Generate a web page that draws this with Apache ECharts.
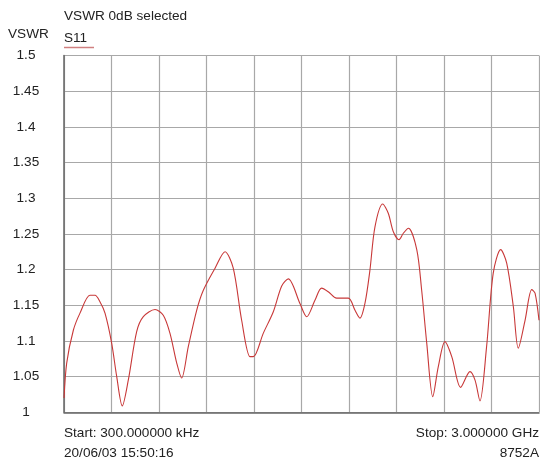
<!DOCTYPE html>
<html>
<head>
<meta charset="utf-8">
<script src="https://cdn.jsdelivr.net/npm/echarts@6/dist/echarts.min.js"></script>
<style>
  html, body { margin: 0; padding: 0; background: #fff; }
  #chart { width: 540px; height: 459px; }
</style>
</head>
<body>
<div id="chart"></div>
<script>
// sweep frequency, MHz (0.3 MHz .. 3000 MHz)
const freqMHz = [0.3, 17, 59, 101, 164, 196, 227, 259, 301, 333, 368, 406, 459, 501, 575, 627, 669, 712, 743, 785,
  838, 880, 954, 1017, 1069, 1122, 1175, 1196, 1259, 1322, 1375, 1417, 1491, 1533, 1585, 1627, 1669, 1722, 1796, 1838,
  1869, 1901, 1932, 1964, 2013, 2048, 2080, 2116, 2143, 2175, 2228, 2259, 2291, 2329, 2364, 2406, 2449, 2505, 2564, 2596,
  2627, 2669, 2711, 2758, 2796, 2838, 2869, 2912, 2954, 2975, 3000]
// S11 VSWR readings
const vswr = [1.02, 1.069, 1.115, 1.139, 1.164, 1.164, 1.155, 1.139, 1.097, 1.05, 1.009, 1.045, 1.113, 1.134, 1.144, 1.136, 1.111, 1.069, 1.048, 1.092,
  1.143, 1.171, 1.202, 1.225, 1.202, 1.129, 1.078, 1.078, 1.111, 1.141, 1.177, 1.187, 1.152, 1.134, 1.157, 1.174, 1.169, 1.160, 1.160, 1.143,
  1.132, 1.153, 1.199, 1.260, 1.292, 1.279, 1.253, 1.242, 1.251, 1.258, 1.228, 1.171, 1.097, 1.022, 1.064, 1.099, 1.078, 1.035, 1.057, 1.045,
  1.016, 1.092, 1.195, 1.228, 1.209, 1.148, 1.090, 1.129, 1.172, 1.167, 1.129]
const yTicks = ['1', '1.05', '1.1', '1.15', '1.2', '1.25', '1.3', '1.35', '1.4', '1.45', '1.5']

const chart = echarts.init(document.getElementById('chart'))
const txt = { fontFamily: 'Liberation Sans, Arial, sans-serif', fontSize: 13.6, fill: '#222' }

chart.setOption({
  animation: false,
  grid: { left: 64, right: 1, top: 55.6, bottom: 46.7, containLabel: false },
  xAxis: {
    type: 'value',
    min: 0,
    max: 3000,
    interval: 300,
    axisLabel: { show: false },
    axisTick: { show: false },
    axisLine: { show: true, lineStyle: { color: '#666', width: 1.5 } },
    splitLine: { show: true, lineStyle: { color: '#a8a8a8', width: 1.2 } }
  },
  yAxis: {
    type: 'value',
    min: 1,
    max: 1.5,
    interval: 0.05,
    axisTick: { show: false },
    axisLine: { show: true, lineStyle: { color: '#666', width: 1.5 } },
    splitLine: { show: true, lineStyle: { color: '#a8a8a8', width: 1.2 } },
    axisLabel: {
      margin: 38,
      align: 'center',
      color: '#222',
      fontSize: 13.6,
      fontFamily: 'Liberation Sans, Arial, sans-serif',
      formatter: (v) => yTicks[Math.round((v - 1) / 0.05)]
    }
  },
  series: [{
    name: 'S11',
    type: 'line',
    data: freqMHz.map((f, i) => [f, vswr[i]]),
    smooth: 0.3,
    symbol: 'none',
    lineStyle: { color: '#c83838', width: 1.1 }
  }],
  graphic: [
    { type: 'text', left: 64, top: 9, style: Object.assign({ text: 'VSWR 0dB selected' }, txt) },
    { type: 'text', left: 8, top: 27, style: Object.assign({ text: 'VSWR' }, txt) },
    { type: 'text', left: 64, top: 31, style: Object.assign({ text: 'S11' }, txt) },
    { type: 'line', shape: { x1: 64, y1: 47.5, x2: 94, y2: 47.5 }, style: { stroke: '#d08080', lineWidth: 1.5 } },
    { type: 'text', left: 64, top: 426, style: Object.assign({ text: 'Start: 300.000000 kHz' }, txt) },
    { type: 'text', left: 64, top: 446, style: Object.assign({ text: '20/06/03 15:50:16' }, txt) },
    { type: 'text', right: 1, top: 426, style: Object.assign({ text: 'Stop: 3.000000 GHz' }, txt) },
    { type: 'text', right: 1, top: 446, style: Object.assign({ text: '8752A' }, txt) }
  ]
})
</script>
</body>
</html>
